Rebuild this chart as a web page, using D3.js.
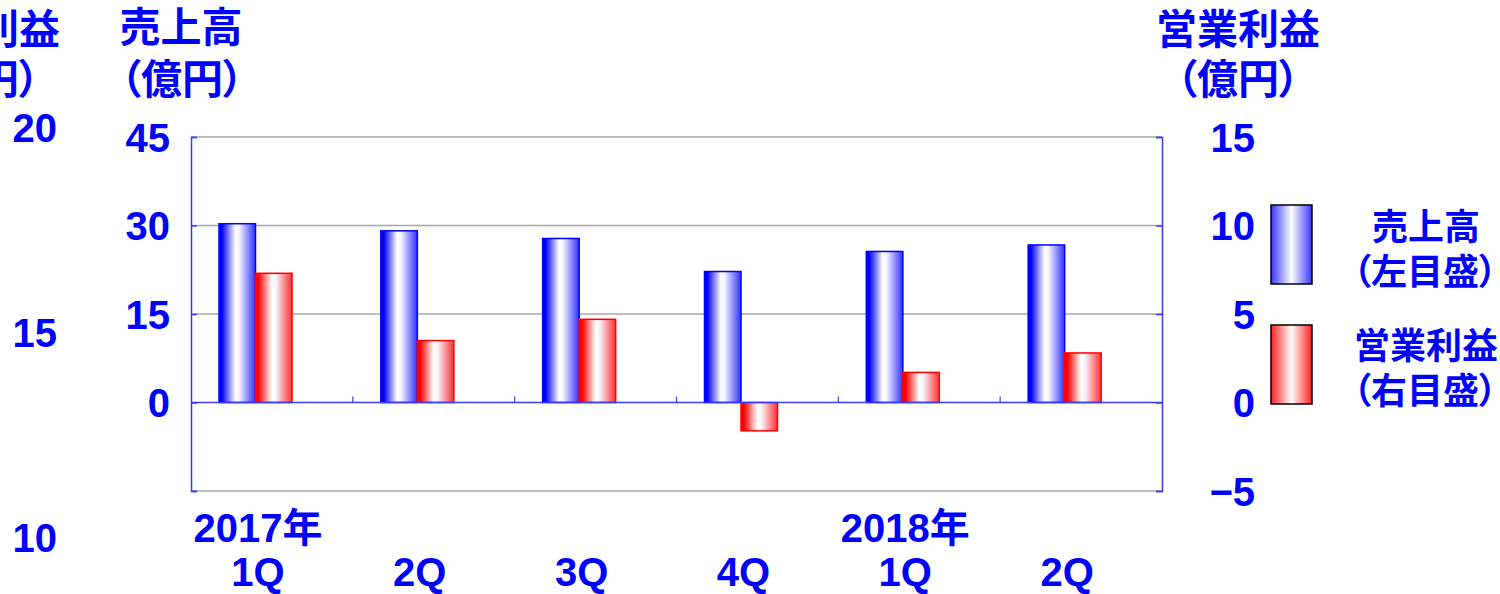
<!DOCTYPE html>
<html>
<head>
<meta charset="utf-8">
<script src="https://cdn.jsdelivr.net/npm/d3@7"></script>
<style>
  html, body { margin: 0; padding: 0; background: #fff; }
  svg text { font-family: "Liberation Sans", "Noto Sans CJK JP", sans-serif; font-weight: bold; fill: #0000ff; font-feature-settings: "palt"; }
</style>
</head>
<body>
<svg id="chart" width="1500" height="594"></svg>
<script>
// ---- data ----
const quarters = ["1Q", "2Q", "3Q", "4Q", "1Q", "2Q"];
const years = ["2017年", "", "", "", "2018年", ""];
const sales = [30.3, 29.1, 27.8, 22.2, 25.6, 26.7];      // 売上高 (左目盛, 億円)
const profit = [7.3, 3.5, 4.7, -1.6, 1.7, 2.8];          // 営業利益 (右目盛, 億円)
const leftTicks = [45, 30, 15, 0, -15];
const leftTickLabels = ["45", "30", "15", "0", ""];
const rightTicks = [15, 10, 5, 0, -5];
const ghostTicks = [20, 15, 10];
const seriesNames = ["売上高", "営業利益"];
const legendSub = ["（左目盛）", "（右目盛）"];
const axisTitleLeft = ["売上高", "（億円）"];
const axisTitleRight = ["営業利益", "（億円）"];

// ---- layout ----
const svg = d3.select("#chart");
const L = 191, R = 1162, T = 137, B = 491;
const blue = "#0000ff", red = "#ff0000", axisBlue = "#3b3bff", grid = "#a8a8a8";

const idx = d3.range(quarters.length);
const x = d3.scaleBand().domain(idx).range([L, R]).padding(0);
const inner = d3.scaleBand().domain(["s", "p", "_"]).range([0, x.bandwidth()])
  .paddingInner(0).paddingOuter(0.717).align(0.535);
const yL = d3.scaleLinear().domain([-15, 45]).range([B, T]);
const yR = d3.scaleLinear().domain([-5, 15]).range([B, T]);
const yGhost = d3.scaleLinear().domain([10, 20]).range([538, 128]);

// ---- gradients ----
const defs = svg.append("defs");
function grad(id, c, edgeR) {
  const g = defs.append("linearGradient").attr("id", id).attr("x1", "0%").attr("x2", "100%").attr("y1", "0%").attr("y2", "0%");
  [[0, c], [0.08, c], [0.45, "#ffffff"], [0.55, "#f6f6ff"], [1, edgeR]].forEach(([o, col]) =>
    g.append("stop").attr("offset", o).attr("stop-color", col));
}
grad("gBlue", blue, "#3030ff");
grad("gRed", red, "#ff3030");
function grad2(id, c) {
  const g = defs.append("linearGradient").attr("id", id).attr("x1", "0%").attr("x2", "100%");
  [[0, c], [0.5, "#ffffff"], [1, c]].forEach(([o, col]) =>
    g.append("stop").attr("offset", o).attr("stop-color", col));
}
grad2("lBlue", "#3535ff");
grad2("lRed", "#ff2020");

// ---- gridlines & frame ----
svg.append("g").selectAll("line").data([45, 30, 15, -15]).join("line")
  .attr("x1", L).attr("x2", R).attr("y1", d => yL(d)).attr("y2", d => yL(d))
  .attr("stroke", grid).attr("stroke-width", 1.5);

// ---- bars ----
const gBars = svg.append("g");
gBars.selectAll("rect.s").data(idx).join("rect").attr("class", "s")
  .attr("x", i => x(i) + inner("s")).attr("width", inner.bandwidth())
  .attr("y", i => yL(Math.max(0, sales[i]))).attr("height", i => Math.abs(yL(sales[i]) - yL(0)))
  .attr("fill", "url(#gBlue)").attr("stroke", blue).attr("stroke-width", 1.5);
gBars.selectAll("rect.p").data(idx).join("rect").attr("class", "p")
  .attr("x", i => x(i) + inner("p")).attr("width", inner.bandwidth())
  .attr("y", i => yR(Math.max(0, profit[i]))).attr("height", i => Math.abs(yR(profit[i]) - yR(0)))
  .attr("fill", "url(#gRed)").attr("stroke", red).attr("stroke-width", 1.5);

// ---- zero line and category ticks ----
svg.append("line").attr("x1", L).attr("x2", R).attr("y1", yL(0)).attr("y2", yL(0))
  .attr("stroke", axisBlue).attr("stroke-width", 1.5);
svg.append("g").selectAll("line").data(idx.slice(1)).join("line")
  .attr("x1", i => x(i)).attr("x2", i => x(i)).attr("y1", yL(0) - 6).attr("y2", yL(0))
  .attr("stroke", axisBlue).attr("stroke-width", 1.2);

// ---- axes ----
const axL = svg.append("g").attr("transform", `translate(${L},0)`)
  .call(d3.axisLeft(yL).tickValues(leftTicks).tickSize(-6).tickPadding(21)
    .tickFormat((d, i) => leftTickLabels[i]));
const axR = svg.append("g").attr("transform", `translate(${R},0)`)
  .call(d3.axisRight(yR).tickValues(rightTicks).tickSize(-6).tickPadding(93));
[axL, axR].forEach(a => {
  a.select(".domain").attr("stroke", axisBlue).attr("stroke-width", 1.5);
  a.selectAll(".tick line").attr("stroke", axisBlue).attr("stroke-width", 1.5);
  a.selectAll(".tick text").attr("fill", blue).style("font-size", "40px").attr("dy", "0.36em");
});
axR.selectAll(".tick text").attr("text-anchor", "end");

// ---- category labels ----
const lab = svg.append("g");
lab.selectAll("text.q").data(idx).join("text").attr("class", "q")
  .attr("x", i => x(i) + x.bandwidth() / 2 - 14).attr("y", 586)
  .attr("text-anchor", "middle").style("font-size", "40px").text(i => quarters[i]);
lab.selectAll("text.yr").data(idx.filter(i => years[i])).join("text").attr("class", "yr")
  .attr("x", i => x(i) + x.bandwidth() / 2 - 14).attr("y", 542)
  .attr("text-anchor", "middle").style("font-size", "40px").text(i => years[i]);

// ---- axis titles ----
svg.append("text").attr("x", 181).attr("y", 42).attr("text-anchor", "middle").style("font-size", "41px").text(axisTitleLeft[0]);
svg.append("text").attr("x", 182).attr("y", 94).attr("text-anchor", "middle").style("font-size", "41px").text(axisTitleLeft[1]);
svg.append("text").attr("x", 1238).attr("y", 44).attr("text-anchor", "middle").style("font-size", "41px").text(axisTitleRight[0]);
svg.append("text").attr("x", 1238).attr("y", 94).attr("text-anchor", "middle").style("font-size", "41px").text(axisTitleRight[1]);

// ---- ghost (cut-off) right-axis copy at the far left, as in the reference ----
svg.append("text").attr("x", -22).attr("y", 44).attr("text-anchor", "middle").style("font-size", "41px").text(axisTitleRight[0]);
svg.append("text").attr("x", -22).attr("y", 94).attr("text-anchor", "middle").style("font-size", "41px").text(axisTitleRight[1]);
svg.append("g").selectAll("text").data(ghostTicks).join("text")
  .attr("x", 57).attr("y", d => yGhost(d)).attr("dy", "0.36em").attr("text-anchor", "end")
  .style("font-size", "40px").text(d => d);

// ---- legend ----
const leg = svg.append("g");
const legY = [205, 325];
leg.selectAll("rect").data([0, 1]).join("rect")
  .attr("x", 1271).attr("y", i => legY[i]).attr("width", 41).attr("height", 79)
  .attr("fill", i => i === 0 ? "url(#lBlue)" : "url(#lRed)")
  .attr("stroke", "#000").attr("stroke-width", 1.5);
leg.selectAll("text.n").data([0, 1]).join("text").attr("class", "n")
  .attr("x", 1426).attr("y", i => [240, 359][i]).attr("text-anchor", "middle")
  .style("font-size", "36px").text(i => seriesNames[i]);
leg.selectAll("text.s").data([0, 1]).join("text").attr("class", "s")
  .attr("x", 1425).attr("y", i => [285, 404][i]).attr("text-anchor", "middle")
  .style("font-size", "36px").text(i => legendSub[i]);
</script>
</body>
</html>
